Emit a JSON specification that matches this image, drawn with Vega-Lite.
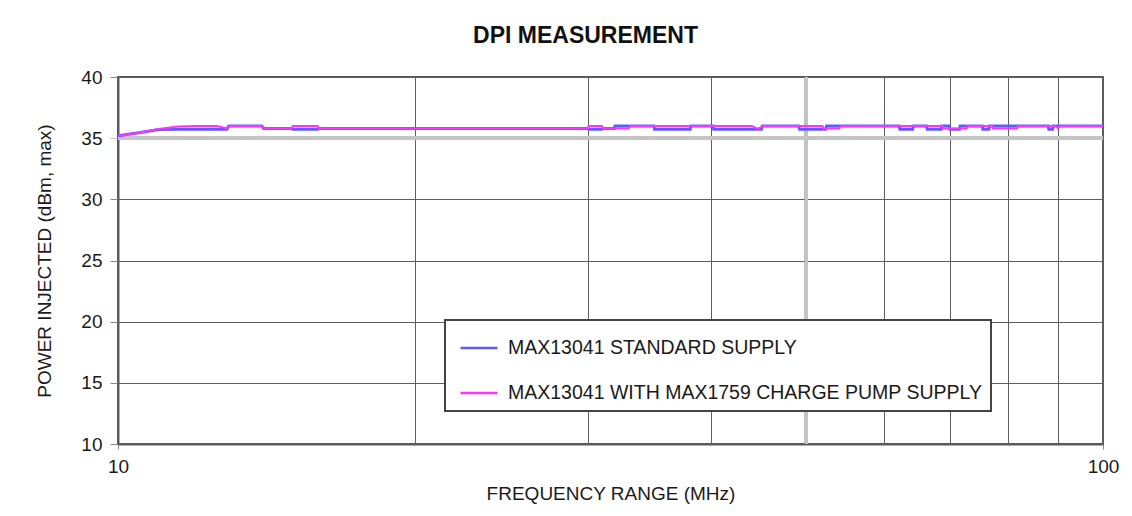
{
  "$schema": "https://vega.github.io/schema/vega-lite/v6.json",
  "width": 985,
  "height": 367,
  "autosize": {"type": "none"},
  "padding": {"left": 118, "top": 77, "right": 29, "bottom": 72},
  "background": "white",
  "title": {"text": "DPI MEASUREMENT", "font": "Liberation Sans", "fontSize": 23, "fontWeight": "bold", "color": "#111", "anchor": "middle", "offset": 20, "dx": -25},
  "config": {
    "view": {"stroke": "#5a5a5a", "strokeWidth": 2},
    "font": "Liberation Sans",
    "legend": {
      "orient": "none", "legendX": 327, "legendY": 243,
      "symbolType": "stroke", "symbolSize": 1369, "symbolStrokeWidth": 2.5, "symbolOffset": 6,
      "labelFont": "Liberation Sans", "labelFontSize": 19.5, "labelColor": "#1a1a1a", "labelLimit": 700, "labelOffset": 9,
      "padding": 8, "rowPadding": 15, "strokeColor": "#444", "strokeWidth": 2, "fillColor": "white"
    }
  },
  "datasets": {
    "pts": [
      {"f": 10, "p": 35.2, "series": "MAX13041 STANDARD SUPPLY"},
      {"f": 10.5, "p": 35.45, "series": "MAX13041 STANDARD SUPPLY"},
      {"f": 11.0, "p": 35.7, "series": "MAX13041 STANDARD SUPPLY"},
      {"f": 11.5, "p": 35.73, "series": "MAX13041 STANDARD SUPPLY"},
      {"f": 12.9, "p": 35.73, "series": "MAX13041 STANDARD SUPPLY"},
      {"f": 12.95, "p": 36.0, "series": "MAX13041 STANDARD SUPPLY"},
      {"f": 14.0, "p": 36.0, "series": "MAX13041 STANDARD SUPPLY"},
      {"f": 14.05, "p": 35.8, "series": "MAX13041 STANDARD SUPPLY"},
      {"f": 15.0, "p": 35.8, "series": "MAX13041 STANDARD SUPPLY"},
      {"f": 15.05, "p": 35.73, "series": "MAX13041 STANDARD SUPPLY"},
      {"f": 15.95, "p": 35.73, "series": "MAX13041 STANDARD SUPPLY"},
      {"f": 16.0, "p": 35.8, "series": "MAX13041 STANDARD SUPPLY"},
      {"f": 30.0, "p": 35.8, "series": "MAX13041 STANDARD SUPPLY"},
      {"f": 30.05, "p": 35.73, "series": "MAX13041 STANDARD SUPPLY"},
      {"f": 31.0, "p": 35.73, "series": "MAX13041 STANDARD SUPPLY"},
      {"f": 31.05, "p": 35.8, "series": "MAX13041 STANDARD SUPPLY"},
      {"f": 31.9, "p": 35.8, "series": "MAX13041 STANDARD SUPPLY"},
      {"f": 31.95, "p": 36.0, "series": "MAX13041 STANDARD SUPPLY"},
      {"f": 35.0, "p": 36.0, "series": "MAX13041 STANDARD SUPPLY"},
      {"f": 35.05, "p": 35.73, "series": "MAX13041 STANDARD SUPPLY"},
      {"f": 38.1, "p": 35.73, "series": "MAX13041 STANDARD SUPPLY"},
      {"f": 38.15, "p": 36.0, "series": "MAX13041 STANDARD SUPPLY"},
      {"f": 40.2, "p": 36.0, "series": "MAX13041 STANDARD SUPPLY"},
      {"f": 40.25, "p": 35.73, "series": "MAX13041 STANDARD SUPPLY"},
      {"f": 45.0, "p": 35.73, "series": "MAX13041 STANDARD SUPPLY"},
      {"f": 45.1, "p": 36.0, "series": "MAX13041 STANDARD SUPPLY"},
      {"f": 49.1, "p": 36.0, "series": "MAX13041 STANDARD SUPPLY"},
      {"f": 49.2, "p": 35.73, "series": "MAX13041 STANDARD SUPPLY"},
      {"f": 52.3, "p": 35.73, "series": "MAX13041 STANDARD SUPPLY"},
      {"f": 52.4, "p": 36.0, "series": "MAX13041 STANDARD SUPPLY"},
      {"f": 62.1, "p": 36.0, "series": "MAX13041 STANDARD SUPPLY"},
      {"f": 62.2, "p": 35.73, "series": "MAX13041 STANDARD SUPPLY"},
      {"f": 64.1, "p": 35.73, "series": "MAX13041 STANDARD SUPPLY"},
      {"f": 64.2, "p": 36.0, "series": "MAX13041 STANDARD SUPPLY"},
      {"f": 66.2, "p": 36.0, "series": "MAX13041 STANDARD SUPPLY"},
      {"f": 66.3, "p": 35.73, "series": "MAX13041 STANDARD SUPPLY"},
      {"f": 68.5, "p": 35.73, "series": "MAX13041 STANDARD SUPPLY"},
      {"f": 68.6, "p": 36.0, "series": "MAX13041 STANDARD SUPPLY"},
      {"f": 69.8, "p": 36.0, "series": "MAX13041 STANDARD SUPPLY"},
      {"f": 69.9, "p": 35.73, "series": "MAX13041 STANDARD SUPPLY"},
      {"f": 71.5, "p": 35.73, "series": "MAX13041 STANDARD SUPPLY"},
      {"f": 71.6, "p": 36.0, "series": "MAX13041 STANDARD SUPPLY"},
      {"f": 75.4, "p": 36.0, "series": "MAX13041 STANDARD SUPPLY"},
      {"f": 75.5, "p": 35.73, "series": "MAX13041 STANDARD SUPPLY"},
      {"f": 76.6, "p": 35.73, "series": "MAX13041 STANDARD SUPPLY"},
      {"f": 76.7, "p": 36.0, "series": "MAX13041 STANDARD SUPPLY"},
      {"f": 88.0, "p": 36.0, "series": "MAX13041 STANDARD SUPPLY"},
      {"f": 88.1, "p": 35.73, "series": "MAX13041 STANDARD SUPPLY"},
      {"f": 88.9, "p": 35.73, "series": "MAX13041 STANDARD SUPPLY"},
      {"f": 89.0, "p": 36.0, "series": "MAX13041 STANDARD SUPPLY"},
      {"f": 100, "p": 36.0, "series": "MAX13041 STANDARD SUPPLY"},

      {"f": 10, "p": 35.2, "series": "MAX13041 WITH MAX1759 CHARGE PUMP SUPPLY"},
      {"f": 10.5, "p": 35.45, "series": "MAX13041 WITH MAX1759 CHARGE PUMP SUPPLY"},
      {"f": 11.0, "p": 35.75, "series": "MAX13041 WITH MAX1759 CHARGE PUMP SUPPLY"},
      {"f": 11.5, "p": 35.95, "series": "MAX13041 WITH MAX1759 CHARGE PUMP SUPPLY"},
      {"f": 12.0, "p": 36.0, "series": "MAX13041 WITH MAX1759 CHARGE PUMP SUPPLY"},
      {"f": 12.6, "p": 36.0, "series": "MAX13041 WITH MAX1759 CHARGE PUMP SUPPLY"},
      {"f": 12.9, "p": 35.8, "series": "MAX13041 WITH MAX1759 CHARGE PUMP SUPPLY"},
      {"f": 12.95, "p": 36.0, "series": "MAX13041 WITH MAX1759 CHARGE PUMP SUPPLY"},
      {"f": 14.0, "p": 36.0, "series": "MAX13041 WITH MAX1759 CHARGE PUMP SUPPLY"},
      {"f": 14.05, "p": 35.8, "series": "MAX13041 WITH MAX1759 CHARGE PUMP SUPPLY"},
      {"f": 15.0, "p": 35.8, "series": "MAX13041 WITH MAX1759 CHARGE PUMP SUPPLY"},
      {"f": 15.05, "p": 36.0, "series": "MAX13041 WITH MAX1759 CHARGE PUMP SUPPLY"},
      {"f": 15.95, "p": 36.0, "series": "MAX13041 WITH MAX1759 CHARGE PUMP SUPPLY"},
      {"f": 16.0, "p": 35.8, "series": "MAX13041 WITH MAX1759 CHARGE PUMP SUPPLY"},
      {"f": 30.0, "p": 35.8, "series": "MAX13041 WITH MAX1759 CHARGE PUMP SUPPLY"},
      {"f": 30.05, "p": 36.0, "series": "MAX13041 WITH MAX1759 CHARGE PUMP SUPPLY"},
      {"f": 31.0, "p": 36.0, "series": "MAX13041 WITH MAX1759 CHARGE PUMP SUPPLY"},
      {"f": 31.05, "p": 35.8, "series": "MAX13041 WITH MAX1759 CHARGE PUMP SUPPLY"},
      {"f": 33.0, "p": 35.8, "series": "MAX13041 WITH MAX1759 CHARGE PUMP SUPPLY"},
      {"f": 33.1, "p": 36.0, "series": "MAX13041 WITH MAX1759 CHARGE PUMP SUPPLY"},
      {"f": 44.0, "p": 36.0, "series": "MAX13041 WITH MAX1759 CHARGE PUMP SUPPLY"},
      {"f": 44.6, "p": 35.75, "series": "MAX13041 WITH MAX1759 CHARGE PUMP SUPPLY"},
      {"f": 45.2, "p": 36.0, "series": "MAX13041 WITH MAX1759 CHARGE PUMP SUPPLY"},
      {"f": 51.9, "p": 36.0, "series": "MAX13041 WITH MAX1759 CHARGE PUMP SUPPLY"},
      {"f": 52.0, "p": 35.8, "series": "MAX13041 WITH MAX1759 CHARGE PUMP SUPPLY"},
      {"f": 54.0, "p": 35.8, "series": "MAX13041 WITH MAX1759 CHARGE PUMP SUPPLY"},
      {"f": 54.1, "p": 36.0, "series": "MAX13041 WITH MAX1759 CHARGE PUMP SUPPLY"},
      {"f": 68.7, "p": 36.0, "series": "MAX13041 WITH MAX1759 CHARGE PUMP SUPPLY"},
      {"f": 68.8, "p": 35.8, "series": "MAX13041 WITH MAX1759 CHARGE PUMP SUPPLY"},
      {"f": 72.7, "p": 35.8, "series": "MAX13041 WITH MAX1759 CHARGE PUMP SUPPLY"},
      {"f": 72.8, "p": 36.0, "series": "MAX13041 WITH MAX1759 CHARGE PUMP SUPPLY"},
      {"f": 77.2, "p": 36.0, "series": "MAX13041 WITH MAX1759 CHARGE PUMP SUPPLY"},
      {"f": 77.3, "p": 35.8, "series": "MAX13041 WITH MAX1759 CHARGE PUMP SUPPLY"},
      {"f": 81.8, "p": 35.8, "series": "MAX13041 WITH MAX1759 CHARGE PUMP SUPPLY"},
      {"f": 81.9, "p": 36.0, "series": "MAX13041 WITH MAX1759 CHARGE PUMP SUPPLY"},
      {"f": 89.5, "p": 36.0, "series": "MAX13041 WITH MAX1759 CHARGE PUMP SUPPLY"},
      {"f": 90.0, "p": 35.8, "series": "MAX13041 WITH MAX1759 CHARGE PUMP SUPPLY"},
      {"f": 90.5, "p": 36.0, "series": "MAX13041 WITH MAX1759 CHARGE PUMP SUPPLY"},
      {"f": 100, "p": 36.0, "series": "MAX13041 WITH MAX1759 CHARGE PUMP SUPPLY"}
    ]
  },
  "data": {"name": "pts"},
  "layer": [
    {
      "mark": {"type": "rule", "color": "#c4c4c4", "strokeWidth": 3},
      "encoding": {"y": {"datum": 35, "type": "quantitative", "scale": {"domain": [10, 40]}}}
    },
    {
      "mark": {"type": "rule", "color": "#c4c4c4", "strokeWidth": 3},
      "encoding": {"x": {"datum": 50, "type": "quantitative", "scale": {"type": "log", "domain": [10, 100]}}}
    },
    {
      "transform": [{"filter": "datum.series == 'MAX13041 STANDARD SUPPLY'"}],
      "mark": {"type": "line", "strokeWidth": 3},
      "encoding": {
        "x": {
          "field": "f", "type": "quantitative",
          "scale": {"type": "log", "domain": [10, 100]},
          "axis": {
            "title": "FREQUENCY RANGE (MHz)", "titleFont": "Liberation Sans", "titleFontSize": 19, "titleFontWeight": "normal", "titleColor": "#1a1a1a", "titlePadding": 8,
            "values": [10, 20, 30, 40, 60, 70, 80, 90, 100],
            "labelExpr": "datum.value == 10 || datum.value == 100 ? datum.label : ''",
            "labelFont": "Liberation Sans", "labelFontSize": 19, "labelColor": "#1a1a1a", "labelPadding": 8, "labelFlush": false,
            "grid": true, "gridColor": "#5e5e5e", "gridWidth": 1,
            "domainColor": "#5a5a5a", "domainWidth": 2,
            "tickSize": 5, "tickColor": "#888",
            "tickOpacity": {"condition": {"test": "datum.value == 10 || datum.value == 100", "value": 1}, "value": 0}
          }
        },
        "y": {
          "field": "p", "type": "quantitative",
          "scale": {"domain": [10, 40]},
          "axis": {
            "title": "POWER INJECTED (dBm, max)", "titleFont": "Liberation Sans", "titleFontSize": 19, "titleFontWeight": "normal", "titleColor": "#1a1a1a", "titlePadding": 26,
            "values": [10, 15, 20, 25, 30, 35, 40],
            "labelFont": "Liberation Sans", "labelFontSize": 19, "labelColor": "#1a1a1a", "labelPadding": 8,
            "grid": true, "gridColor": "#5e5e5e", "gridWidth": 1,
            "domainColor": "#5a5a5a", "domainWidth": 2,
            "tickSize": 8,
            "tickColor": {"condition": {"test": "datum.value == 35", "value": "#c4c4c4"}, "value": "#888"}
          }
        },
        "color": {
          "field": "series", "type": "nominal", "title": null,
          "scale": {"domain": ["MAX13041 STANDARD SUPPLY", "MAX13041 WITH MAX1759 CHARGE PUMP SUPPLY"], "range": ["#5c5cff", "#ff33ff"]}
        }
      }
    },
    {
      "transform": [{"filter": "datum.series != 'MAX13041 STANDARD SUPPLY'"}],
      "mark": {"type": "line", "strokeWidth": 2},
      "encoding": {
        "x": {"field": "f", "type": "quantitative", "scale": {"type": "log", "domain": [10, 100]}},
        "y": {"field": "p", "type": "quantitative", "scale": {"domain": [10, 40]}},
        "color": {"field": "series", "type": "nominal", "title": null}
      }
    }
  ]
}
